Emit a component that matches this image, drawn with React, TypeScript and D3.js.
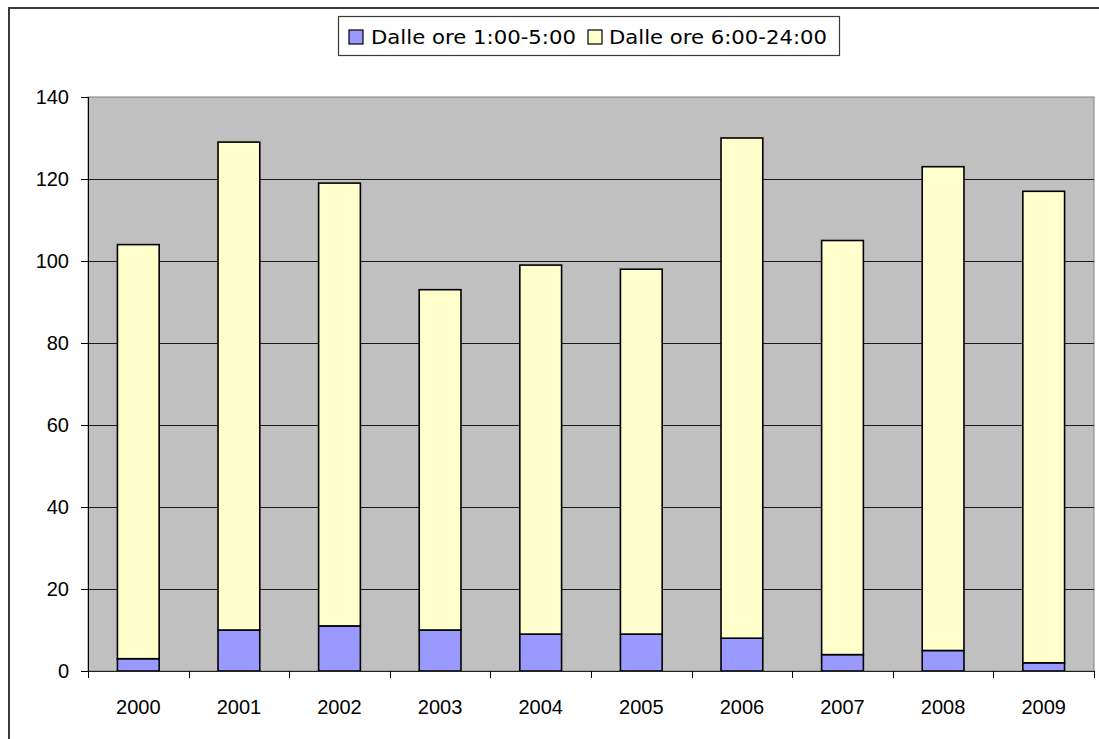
import React from "react";
import * as d3 from "d3";

const years = ["2000", "2001", "2002", "2003", "2004", "2005", "2006", "2007", "2008", "2009"];
// Night hours 1:00-5:00
const nightValues = [3, 10, 11, 10, 9, 9, 8, 4, 5, 2];
// Totals (night + day 6:00-24:00)
const totalValues = [104, 129, 119, 93, 99, 98, 130, 105, 123, 117];
const dayValues = totalValues.map((t, i) => t - nightValues[i]);
const yTicks = [0, 20, 40, 60, 80, 100, 120, 140];
const seriesNames = ["Dalle ore 1:00-5:00", "Dalle ore 6:00-24:00"];
const seriesColors = ["#9999FF", "#FFFFCC"];

const W = 1099;
const H = 739;
const plot = { left: 88, right: 1094, top: 97, bottom: 671 };

export default function App() {
  const x = d3
    .scaleBand<string>()
    .domain(years)
    .range([plot.left, plot.right])
    .paddingInner(0.585)
    .paddingOuter(0.2925);
  const y = d3.scaleLinear().domain([0, 140]).range([plot.bottom, plot.top]);

  const rows = years.map((yr, i) => ({ year: yr, night: nightValues[i], day: dayValues[i] }));
  const stacked = d3.stack<any>().keys(["night", "day"])(rows);

  const step = (plot.right - plot.left) / years.length;
  const tickXs = d3.range(years.length + 1).map((i) => plot.left + i * step);

  const axisFont = "'Liberation Sans', Arial, sans-serif";
  const legendFont = "'DejaVu Sans', 'Liberation Sans', sans-serif";

  return (
    <svg width={W} height={H} style={{ position: "absolute", left: 0, top: 0 }}>
      <rect x={0} y={0} width={W} height={H} fill="#ffffff" />
      {/* chart frame */}
      <rect x={9} y={8} width={W + 20} height={H + 20} fill="none" stroke="#3a3a3a" strokeWidth={2} />

      {/* plot background */}
      <rect
        x={plot.left}
        y={plot.top}
        width={plot.right - plot.left}
        height={plot.bottom - plot.top}
        fill="#C0C0C0"
        stroke="#808080"
        strokeWidth={1}
      />

      {/* gridlines */}
      {yTicks
        .filter((t) => t > 0 && t < 140)
        .map((t) => (
          <line
            key={"g" + t}
            x1={plot.left}
            x2={plot.right}
            y1={Math.round(y(t)) + 0.5}
            y2={Math.round(y(t)) + 0.5}
            stroke="#1a1a1a"
            strokeWidth={1}
          />
        ))}

      {/* stacked bars */}
      {stacked.map((layer, li) =>
        layer.map((d: any, i: number) => (
          <rect
            key={li + "-" + i}
            x={x(years[i])}
            y={y(d[1])}
            width={x.bandwidth()}
            height={y(d[0]) - y(d[1])}
            fill={seriesColors[li]}
            stroke="#000000"
            strokeWidth={1.6}
          />
        ))
      )}

      {/* y axis */}
      <line x1={plot.left + 0.5} x2={plot.left + 0.5} y1={plot.top} y2={plot.bottom} stroke="#000" strokeWidth={1} />
      {yTicks.map((t) => (
        <g key={"y" + t}>
          <line
            x1={81}
            x2={plot.left}
            y1={Math.round(y(t)) + 0.5}
            y2={Math.round(y(t)) + 0.5}
            stroke="#000"
            strokeWidth={1}
          />
          <text
            x={69}
            y={y(t)}
            textAnchor="end"
            dominantBaseline="central"
            fontFamily={axisFont}
            fontSize={20}
            fill="#000"
          >
            {t}
          </text>
        </g>
      ))}

      {/* x axis */}
      <line x1={plot.left} x2={plot.right} y1={plot.bottom + 0.5} y2={plot.bottom + 0.5} stroke="#222" strokeWidth={1.2} />
      {tickXs.map((tx, i) => (
        <line
          key={"xt" + i}
          x1={Math.round(tx) + 0.5}
          x2={Math.round(tx) + 0.5}
          y1={plot.bottom}
          y2={plot.bottom + 7}
          stroke="#000"
          strokeWidth={1}
        />
      ))}
      {years.map((yr) => (
        <text
          key={"xl" + yr}
          x={(x(yr) as number) + x.bandwidth() / 2}
          y={714}
          textAnchor="middle"
          fontFamily={axisFont}
          fontSize={20}
          fill="#000"
        >
          {yr}
        </text>
      ))}

      {/* legend */}
      <rect x={338.5} y={16.5} width={501} height={39} fill="#ffffff" stroke="#3a3a3a" strokeWidth={1.2} />
      {seriesNames.map((name, i) => {
        const sx = i === 0 ? 349 : 588;
        const tx = i === 0 ? 371 : 609;
        const tw = i === 0 ? 205 : 218;
        return (
          <g key={"lg" + i}>
            <rect x={sx} y={30} width={14} height={14} fill={seriesColors[i]} stroke="#000" strokeWidth={1.2} />
            <text
              x={tx}
              y={37}
              dominantBaseline="central"
              fontFamily={legendFont}
              fontSize={20}
              textLength={tw}
              lengthAdjust="spacingAndGlyphs"
              fill="#000"
            >
              {name}
            </text>
          </g>
        );
      })}
    </svg>
  );
}
